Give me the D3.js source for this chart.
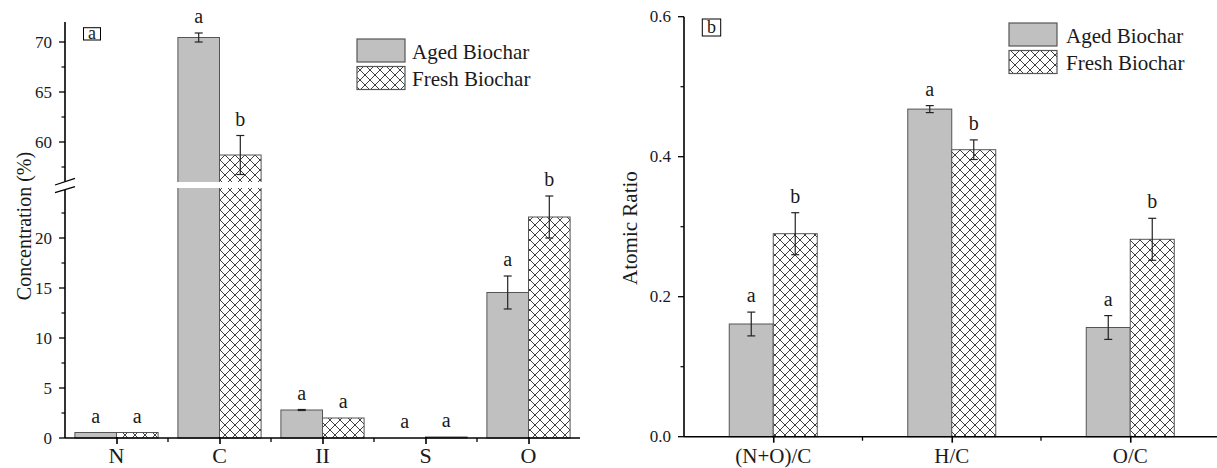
<!DOCTYPE html>
<html>
<head>
<meta charset="utf-8">
<script src="https://cdn.jsdelivr.net/npm/d3@7"></script>
<style>
  body { margin: 0; background: #fff; }
  svg text { font-family: "Liberation Serif", "Times New Roman", serif; fill: #1a1a1a; }
</style>
</head>
<body>
<div id="chart"></div>
<script>
// panel a : element concentration (%)
var elements = ["N", "C", "II", "S", "O"];
var agedConc = [0.55, 70.45, 2.8, 0, 14.55];
var agedConcErr = [0, 0.45, 0.05, 0, 1.65];
var freshConc = [0.55, 58.7, 2.0, 0.1, 22.1];
var freshConcErr = [0, 1.95, 0, 0, 2.1];
var agedConcLetters = ["a", "a", "a", "a", "a"];
var freshConcLetters = ["a", "b", "a", "a", "b"];
var lowTicks = [0, 5, 10, 15, 20];
var highTicks = [60, 65, 70];

// panel b : atomic ratios
var ratios = ["(N+O)/C", "H/C", "O/C"];
var agedRatio = [0.161, 0.468, 0.156];
var agedRatioErr = [0.017, 0.005, 0.017];
var freshRatio = [0.29, 0.41, 0.282];
var freshRatioErr = [0.03, 0.014, 0.03];
var agedRatioLetters = ["a", "a", "a"];
var freshRatioLetters = ["b", "b", "b"];
var ratioTicks = [0, 0.2, 0.4, 0.6];

var seriesNames = ["Aged Biochar", "Fresh Biochar"];

var width = 1217, height = 468;
var agedFill = "#c0c0c0", barStroke = "#555";

var svg = d3.select("#chart").append("svg")
    .attr("width", width)
    .attr("height", height);

//crosshatch for fresh biochar
var pat = svg.append("defs").append("pattern")
    .attr("id", "hatch")
    .attr("patternUnits", "userSpaceOnUse")
    .attr("width", 10).attr("height", 10);
pat.append("rect").attr("width", 10).attr("height", 10).attr("fill", "#fff");
pat.append("path")
    .attr("d", "M-1,-1L11,11M11,-1L-1,11M-1,9L1,11M9,-1L11,1M9,11L11,9M-1,1L1,-1")
    .attr("stroke", "#2a2a2a")
    .attr("stroke-width", 0.9);

function fillFor(s) { return s === 0 ? agedFill : "url(#hatch)"; }

// ---------- panel a ----------
var a = svg.append("g").attr("class", "panel-a");
var xA = d3.scalePoint().domain(elements).range([65, 580]).padding(0.5);
var yLow = d3.scaleLinear().domain([0, 25]).range([438, 188]);
var yHigh = d3.scaleLinear().domain([56, 72]).range([182, 22]);
function yA(v) { return v <= 25 ? yLow(v) : yHigh(v); }
var bwA = 41.6;

var rowsA = elements.map(function(e, i) {
    return [
        {cat: e, s: 0, v: agedConc[i], err: agedConcErr[i], letter: agedConcLetters[i]},
        {cat: e, s: 1, v: freshConc[i], err: freshConcErr[i], letter: freshConcLetters[i]}
    ];
});
drawBars(a, rowsA, xA, yA, bwA, yLow(0));

// white gap through the broken bars
a.selectAll("rect.gap")
    .data(rowsA.filter(function(r) { return d3.max(r, function(d) { return d.v; }) > 25; }))
    .enter().append("rect")
    .attr("class", "gap")
    .attr("x", function(r) { return xA(r[0].cat) - bwA - 1; })
    .attr("width", 2 * bwA + 2)
    .attr("y", yHigh(56))
    .attr("height", yLow(25) - yHigh(56))
    .attr("fill", "#fff");

// y axis (broken)
var axA = a.append("g");
axA.append("line").attr("x1", 65).attr("x2", 65).attr("y1", yHigh(72)).attr("y2", yLow(0))
    .attr("stroke", "#000").attr("stroke-width", 1.6);
yTicks(axA, 65, yLow, lowTicks, d3.range(2.5, 25, 5), d3.format("d"));
yTicks(axA, 65, yHigh, highTicks, [57.5, 62.5, 67.5], d3.format("d"));
// break marks
axA.append("path")
    .attr("d", "M55,185L75,178.3L75,186.7L55,192.7Z")
    .attr("fill", "#fff");
axA.append("path")
    .attr("d", "M55,185L75,178.3M55,192.7L75,186.7")
    .attr("stroke", "#000").attr("stroke-width", 1.3);

xAxis(a, xA, 65, 580, yLow(0), 463, 22);

a.append("text")
    .attr("transform", "translate(31," + 226 + ") rotate(-90)")
    .attr("text-anchor", "middle")
    .style("font-size", "20px")
    .text("Concentration (%)");

panelTag(a, 83.5, 27.7, 17, 12.3, "a", 18, 38.5);
legend(a, 357, 39, 412);

// ---------- panel b ----------
var b = svg.append("g").attr("class", "panel-b");
var xB = d3.scalePoint().domain(ratios).range([684, 1219.5]).padding(0.5);
var yB = d3.scaleLinear().domain([0, 0.6]).range([436.7, 16.7]);
var bwB = 44;

var rowsB = ratios.map(function(r, i) {
    return [
        {cat: r, s: 0, v: agedRatio[i], err: agedRatioErr[i], letter: agedRatioLetters[i]},
        {cat: r, s: 1, v: freshRatio[i], err: freshRatioErr[i], letter: freshRatioLetters[i]}
    ];
});
drawBars(b, rowsB, xB, yB, bwB, yB(0));

var axB = b.append("g");
axB.append("line").attr("x1", 684).attr("x2", 684).attr("y1", yB(0.6)).attr("y2", yB(0))
    .attr("stroke", "#000").attr("stroke-width", 1.6);
yTicks(axB, 684, yB, ratioTicks, [0.1, 0.3, 0.5], d3.format(".1f"));
xAxis(b, xB, 684, 1219.5, yB(0), 463, 21);

b.append("text")
    .attr("transform", "translate(637," + 228 + ") rotate(-90)")
    .attr("text-anchor", "middle")
    .style("font-size", "21px")
    .text("Atomic Ratio");

panelTag(b, 702.3, 19, 18.4, 17, "b", 18, 33);
legend(b, 1009, 23, 1066);

// ---------- helpers ----------
function drawBars(g, rows, x, y, bw, y0) {
    var grp = g.selectAll("g.cat").data(rows).enter().append("g").attr("class", "cat");
    var bar = grp.selectAll("g.bar").data(function(r) { return r; }).enter().append("g").attr("class", "bar");
    function left(d) { return x(d.cat) - bw + d.s * bw; }

    bar.filter(function(d) { return d.v > 0; }).append("rect")
        .attr("x", left)
        .attr("width", bw)
        .attr("y", function(d) { return y(d.v); })
        .attr("height", function(d) { return y0 - y(d.v); })
        .attr("fill", function(d) { return fillFor(d.s); })
        .attr("stroke", barStroke)
        .attr("stroke-width", 1);

    var eb = bar.filter(function(d) { return d.err > 0; }).append("g")
        .attr("stroke", "#222").attr("stroke-width", 1.2);
    eb.append("line")
        .attr("x1", function(d) { return left(d) + bw / 2; })
        .attr("x2", function(d) { return left(d) + bw / 2; })
        .attr("y1", function(d) { return y(d.v + d.err); })
        .attr("y2", function(d) { return y(d.v - d.err); });
    eb.selectAll("line.cap").data(function(d) { return [d.v + d.err, d.v - d.err].map(function(v) { return {d: d, v: v}; }); })
        .enter().append("line").attr("class", "cap")
        .attr("x1", function(c) { return left(c.d) + bw / 2 - 4; })
        .attr("x2", function(c) { return left(c.d) + bw / 2 + 4; })
        .attr("y1", function(c) { return y(c.v); })
        .attr("y2", function(c) { return y(c.v); });

    bar.append("text")
        .attr("x", function(d) { return left(d) + bw / 2; })
        .attr("y", function(d) { return y(d.v + d.err) - 10; })
        .attr("text-anchor", "middle")
        .style("font-size", "20px")
        .text(function(d) { return d.letter; });
}

function yTicks(g, x0, y, major, minor, fmt) {
    g.selectAll(null).data(major).enter().append("line")
        .attr("x1", x0 - 6).attr("x2", x0)
        .attr("y1", y).attr("y2", y)
        .attr("stroke", "#000").attr("stroke-width", 1.3);
    g.selectAll(null).data(minor).enter().append("line")
        .attr("x1", x0 - 3.5).attr("x2", x0)
        .attr("y1", y).attr("y2", y)
        .attr("stroke", "#000").attr("stroke-width", 1.2);
    g.selectAll(null).data(major).enter().append("text")
        .attr("x", x0 - 13)
        .attr("y", y)
        .attr("dy", "0.34em")
        .attr("text-anchor", "end")
        .style("font-size", "17px")
        .text(fmt);
}

function xAxis(g, x, x0, x1, y0, labelY, fs) {
    var step = x.step();
    var ax = g.append("g").attr("transform", "translate(0," + y0 + ")");
    ax.call(d3.axisBottom(x).tickSize(6).tickSizeOuter(0).tickFormat(""));
    ax.select(".domain").attr("stroke-width", 1.6).attr("d", "M" + x0 + ",0H" + x1);
    ax.selectAll(".tick line").attr("stroke-width", 1.6).attr("y1", -1);
    ax.selectAll("line.minor").data(x.domain().slice(0, -1)).enter().append("line")
        .attr("class", "minor")
        .attr("x1", function(d) { return x(d) + step / 2; })
        .attr("x2", function(d) { return x(d) + step / 2; })
        .attr("y1", 0).attr("y2", 4)
        .attr("stroke", "#000").attr("stroke-width", 1.3);
    g.selectAll(null).data(x.domain()).enter().append("text")
        .attr("x", function(d) { return x(d); })
        .attr("y", labelY)
        .attr("text-anchor", "middle")
        .style("font-size", fs + "px")
        .text(function(d) { return d; });
}

function panelTag(g, x, y, w, h, txt, fs, base) {
    g.append("rect").attr("x", x).attr("y", y).attr("width", w).attr("height", h)
        .attr("fill", "none").attr("stroke", "#000").attr("stroke-width", 1);
    g.append("text").attr("x", x + w / 2).attr("y", base)
        .attr("text-anchor", "middle").style("font-size", fs + "px").text(txt);
}

function legend(g, x, y, tx) {
    var lg = g.append("g");
    lg.selectAll("rect").data(seriesNames).enter().append("rect")
        .attr("x", x)
        .attr("y", function(d, i) { return y + i * 27.5; })
        .attr("width", 48).attr("height", 23)
        .attr("fill", function(d, i) { return fillFor(i); })
        .attr("stroke", barStroke).attr("stroke-width", 1.2);
    lg.selectAll("text").data(seriesNames).enter().append("text")
        .attr("x", tx)
        .attr("y", function(d, i) { return y + 19.5 + i * 27; })
        .style("font-size", "21px")
        .text(function(d) { return d; });
}
</script>
</body>
</html>
